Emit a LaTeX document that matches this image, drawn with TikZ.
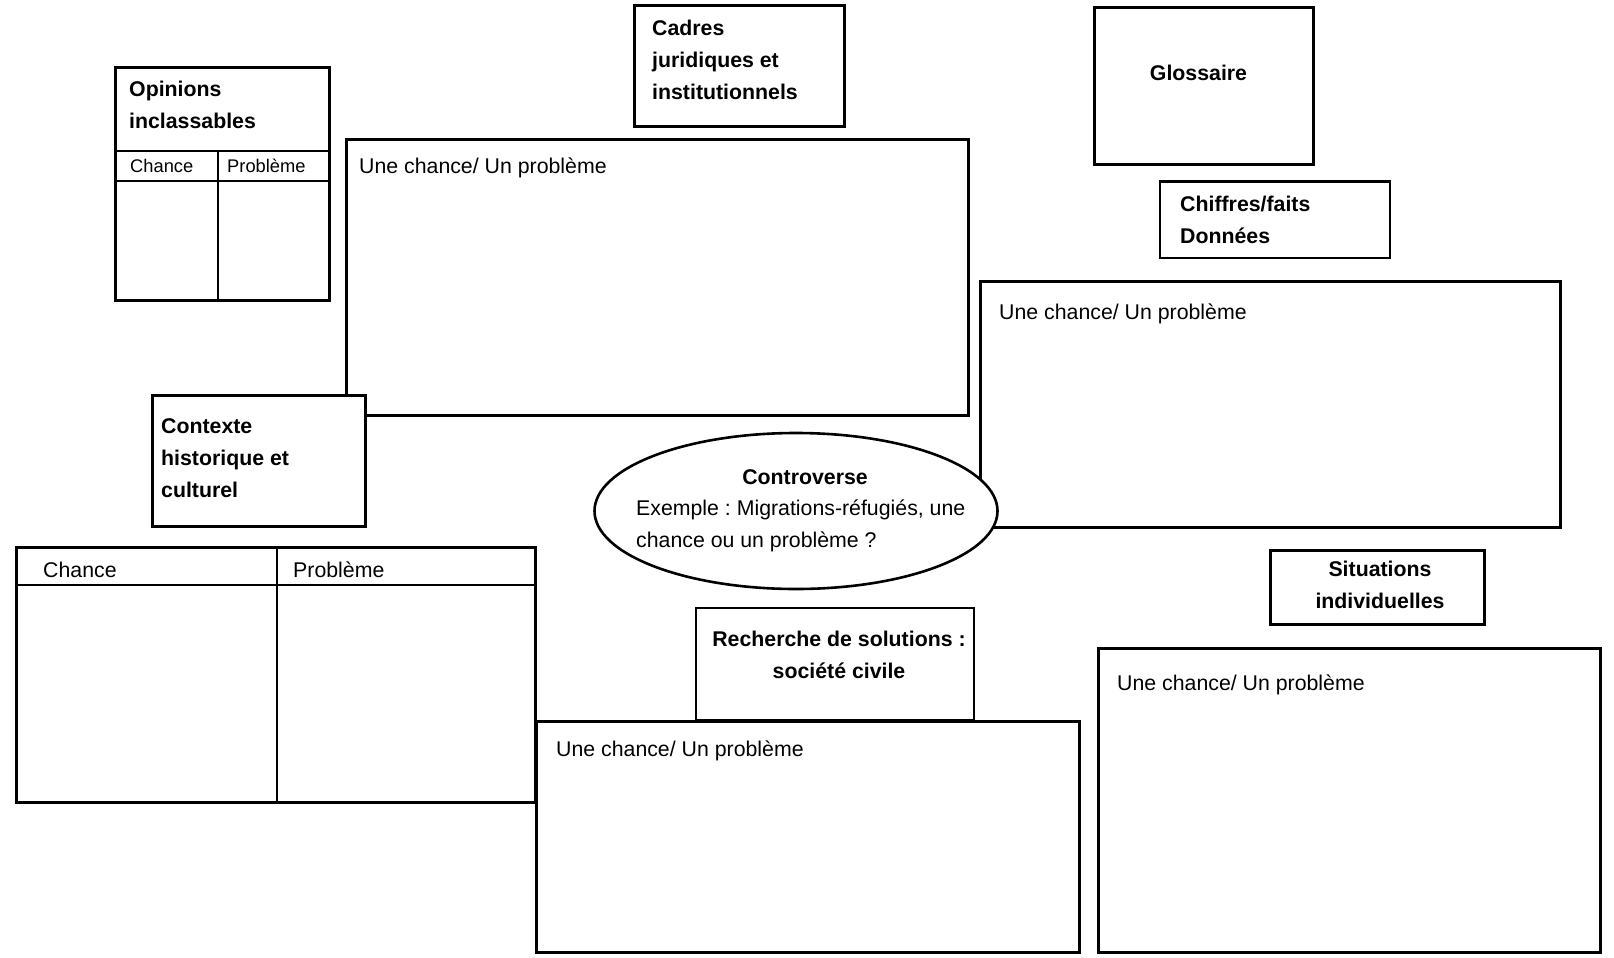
\documentclass[tikz,border=0pt]{standalone}
\usepackage{fontspec}
\setmainfont{Liberation Sans}
\usetikzlibrary{shapes.geometric}
\frenchspacing
\begin{document}
\frenchspacing
\begin{tikzpicture}[x=1pt,y=-1pt,
  box/.style={draw, line width=2.6pt, fill=white, inner sep=0pt, anchor=north west},
  txt/.style={inner sep=0pt, font=\fontsize{21.3}{32}\selectfont},
  ttl/.style={inner sep=0pt, font=\fontsize{21.3}{32}\selectfont\bfseries},
  sml/.style={inner sep=0pt, font=\fontsize{18.3}{22}\selectfont},
  ln/.style={line width=2.6pt}]
\useasboundingbox (0,0) rectangle (1614,958);

% Opinions inclassables
\node[box, minimum width=214pt, minimum height=233pt] (op) at (114,66) {};
\draw[ln] (op.north west |- 0,151) -- (op.north east |- 0,151);
\draw[ln] (op.north west |- 0,181) -- (op.north east |- 0,181);
\draw[ln] (218,151) -- (op.south west -| 218,0);
\node[ttl, anchor=west, align=left] (opt) at (129,105) {Opinions\\inclassables};
\node[sml, anchor=base west] (opc) at (130,172) {Chance};
\node[sml, anchor=base west] (opp) at (227,172) {Problème};

% Big box 1
\node[box, minimum width=622pt, minimum height=276pt] (b1) at (345,138) {};
\node[txt, anchor=base west] (b1t) at (359,173) {Une chance/ Un problème};

% Cadres
\node[box, minimum width=210pt, minimum height=121pt] (cad) at (633,4) {};
\node[ttl, anchor=west, align=left] (cadt) at (652,59.5) {Cadres\\juridiques et\\institutionnels};

% Contexte
\node[box, minimum width=213pt, minimum height=131pt] (ctx) at (151,394) {};
\node[ttl, anchor=west, align=left] (ctxt) at (161,458) {Contexte\\historique et\\culturel};

% Glossaire
\node[box, minimum width=219pt, minimum height=157pt] (glo) at (1093,6) {};
\node[ttl] (glot) at (1198.5,73) {Glossaire};

% Chiffres
\node[box, minimum width=230pt, minimum height=76.5pt] (chi) at (1158.5,180) {};
\node[ttl, anchor=west, align=left] (chit) at (1180,220) {Chiffres/faits\\Données};

% Big box 2
\node[box, minimum width=580pt, minimum height=246pt] (b2) at (979,280) {};
\node[txt, anchor=base west] (b2t) at (999,319) {Une chance/ Un problème};

% Controverse
\node[draw, ellipse, line width=2.6pt, fill=white, minimum width=403pt, minimum height=156pt, inner sep=0pt] (con) at (796,511) {};
\node[ttl] (cont) at (805,477) {Controverse};
\node[txt, anchor=west, align=left] (conb) at (636,525.5) {Exemple : Migrations-réfugiés, une\\chance ou un problème ?};

% Table bottom-left
\node[box, minimum width=519pt, minimum height=255pt] (tab) at (15,546) {};
\draw[ln] (tab.north west |- 0,585) -- (tab.north east |- 0,585);
\draw[ln] (tab.north west -| 277,0) -- (tab.south west -| 277,0);
\node[txt, anchor=base west] (tabc) at (43,577.5) {Chance};
\node[txt, anchor=base west] (tabp) at (293,577.5) {Problème};

% Big box 3
\node[box, minimum width=543pt, minimum height=231pt] (b3) at (535,720) {};
\node[txt, anchor=base west] (b3t) at (556,756.5) {Une chance/ Un problème};

% Recherche
\node[box, minimum width=278pt, minimum height=112.5pt] (rec) at (694.5,606.5) {};
\node[ttl, align=center] (rect) at (839,655) {Recherche de solutions :\\société civile};

% Situations
\node[box, minimum width=214pt, minimum height=74pt] (sit) at (1269,549) {};
\node[ttl, align=center] (sitt) at (1380,585) {Situations\\individuelles};

% Big box 4
\node[box, minimum width=502pt, minimum height=304pt] (b4) at (1097,647) {};
\node[txt, anchor=base west] (b4t) at (1117,690.5) {Une chance/ Un problème};
\end{tikzpicture}
\end{document}
